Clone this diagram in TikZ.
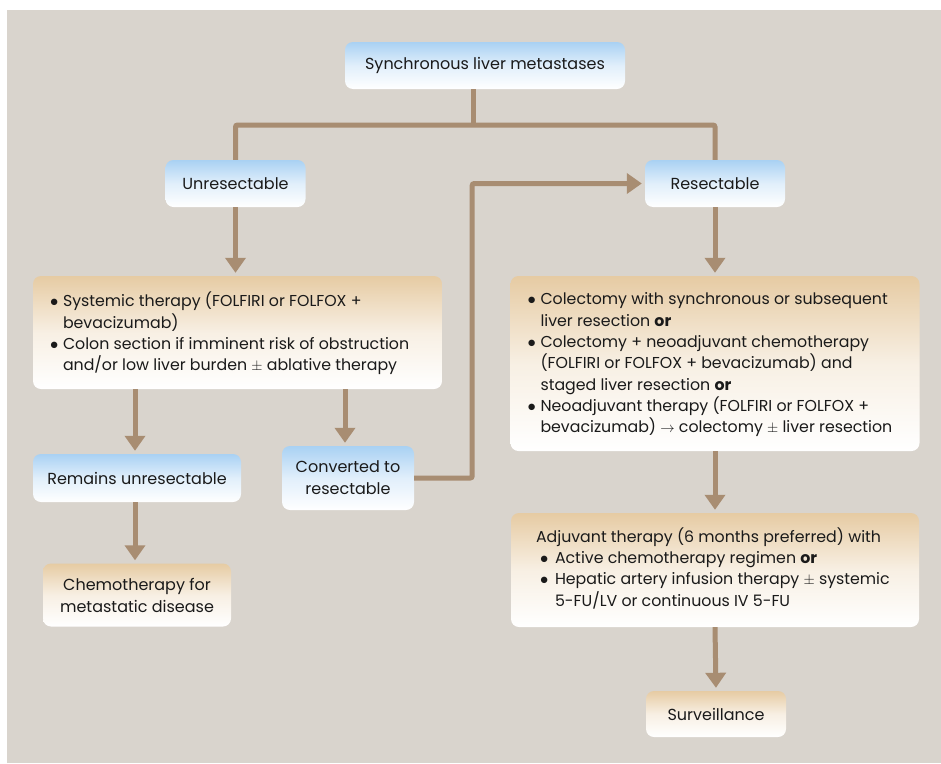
\documentclass[tikz,border=0pt]{standalone}
\usepackage{fontspec}
\setmainfont{Poppins}
\usetikzlibrary{arrows.meta}
\definecolor{bg}{HTML}{D9D4CD}
\definecolor{ln}{HTML}{A88D72}
\definecolor{bluetop}{HTML}{A9D1F3}
\definecolor{tantop}{HTML}{E6CBA3}
\definecolor{txt}{HTML}{1A1A1A}
\newcommand{\bul}{\makebox[13pt][l]{\scalebox{1.15}{$\bullet$}}}
\newcommand{\bulb}{\makebox[19pt][l]{\hspace{4pt}\scalebox{1.15}{$\bullet$}}}
\tikzset{
  box/.style={rounded corners=8pt, inner sep=0pt, align=center, text=txt, font=\fontsize{16}{22}\selectfont},
  bluebox/.style={box, top color=bluetop, bottom color=white, middle color=bluetop!35!white},
  tanbox/.style={box, top color=tantop, bottom color=white, middle color=tantop!30!white},
  listtext/.style={anchor=west, inner sep=0pt, text=txt, font=\fontsize{15.8}{21.3}\selectfont},
  conn/.style={draw=ln, line width=5pt, rounded corners=2pt},
  arr/.style={conn, -{Triangle[width=20pt,length=15pt]}, shorten >=3pt},
}
\begin{document}
\begin{tikzpicture}[x=1pt,y=-1pt]
\useasboundingbox (0,0) rectangle (941,763);
\fill[bg] (7,10) rectangle (941,763);

\node[bluebox, minimum width=280pt, minimum height=47pt] (top) at (485,65.5) {Synchronous liver metastases};
\node[bluebox, minimum width=140pt, minimum height=47pt] (unres) at (235.5,183.5) {Unresectable};
\node[bluebox, minimum width=140pt, minimum height=47pt] (res) at (715,183.5) {Resectable};

\node[tanbox, minimum width=409pt, minimum height=113pt] (lbox) at (237.5,332.5) {};
\node[listtext] (lboxt) at ([xshift=17pt,yshift=-2pt]lbox.west) {%
\begin{tabular}{@{}l@{}l@{}}
\bul & Systemic therapy (FOLFIRI or FOLFOX +\\
     & bevacizumab)\\
\bul & Colon section if imminent risk of obstruction\\
     & and/or low liver burden $\pm$ ablative therapy
\end{tabular}};

\node[tanbox, minimum width=409pt, minimum height=175pt] (rbox) at (715,363.5) {};
\node[listtext] (rboxt) at ([xshift=17pt,yshift=-1pt]rbox.west) {%
\begin{tabular}{@{}l@{}l@{}}
\bul & Colectomy with synchronous or subsequent\\
     & liver resection \textbf{or}\\
\bul & Colectomy + neoadjuvant chemotherapy\\
     & (FOLFIRI or FOLFOX + bevacizumab) and\\
     & staged liver resection \textbf{or}\\
\bul & Neoadjuvant therapy (FOLFIRI or FOLFOX +\\
     & bevacizumab) $\rightarrow$ colectomy $\pm$ liver resection
\end{tabular}};

\node[bluebox, minimum width=208pt, minimum height=48pt] (rem) at (137,478) {Remains unresectable};
\node[bluebox, minimum width=132pt, minimum height=64pt] (conv) at (348,478) {Converted to\\resectable};
\node[tanbox, minimum width=188pt, minimum height=63pt] (chemo) at (137,595) {Chemotherapy for\\metastatic disease};

\node[tanbox, minimum width=408pt, minimum height=114pt] (adj) at (715,570) {};
\node[listtext] (adjt) at ([xshift=25pt,yshift=0pt]adj.west) {%
\begin{tabular}{@{}l@{}l@{}}
\multicolumn{2}{@{}l@{}}{Adjuvant therapy (6 months preferred) with}\\
\bulb & Active chemotherapy regimen \textbf{or}\\
\bulb & Hepatic artery infusion therapy $\pm$ systemic\\
      & 5-FU/LV or continuous IV 5-FU
\end{tabular}};

\node[tanbox, minimum width=140pt, minimum height=46pt] (surv) at (716,714) {Surveillance};

\coordinate (j) at (473,125);
\coordinate (cl) at (135,0);
\coordinate (cr) at (345,0);

\draw[conn] (top.south -| j) -- (j);
\draw[conn] (unres.north) |- (j) -| (res.north);
\draw[arr] (unres.south) -- (unres.south |- lbox.north);
\draw[arr] (lbox.south -| cl) -- (rem.north -| cl);
\draw[arr] (lbox.south -| cr) -- (conv.north -| cr);
\draw[arr] (rem.south -| cl) -- (chemo.north -| cl);
\draw[arr] (conv.east) -- ++(58,0) |- (res.west);
\draw[arr] (res.south) -- (rbox.north);
\draw[arr] (rbox.south) -- (adj.north);
\draw[arr] (adj.south) -- (surv.north);
\end{tikzpicture}
\end{document}
